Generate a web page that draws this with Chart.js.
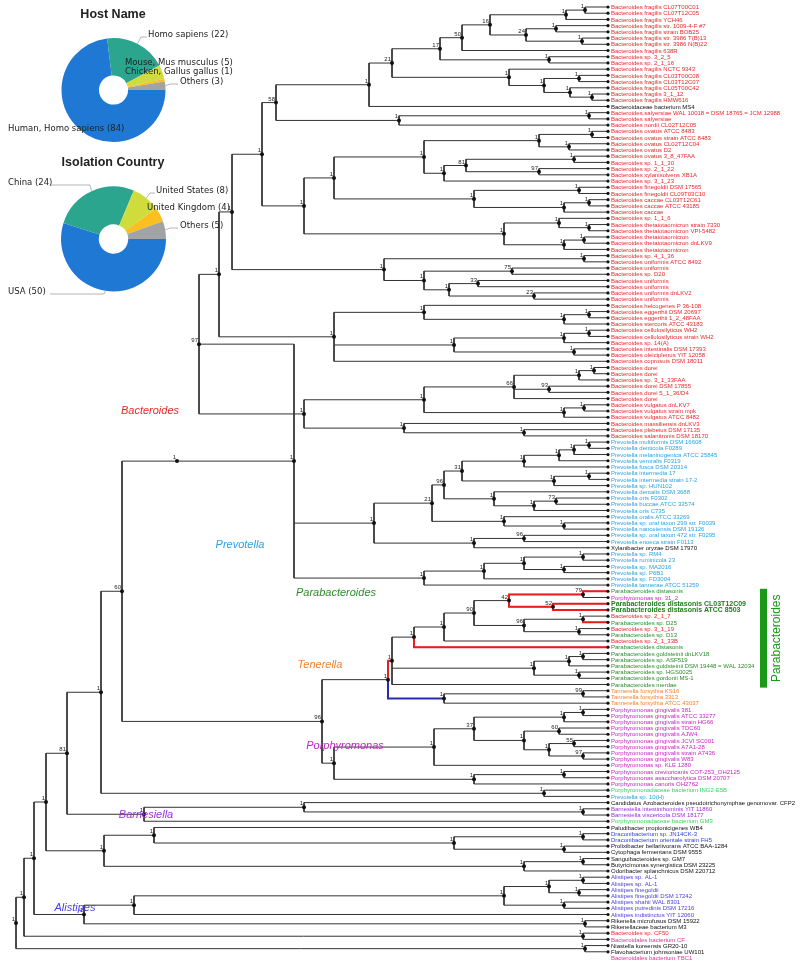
<!DOCTYPE html>
<html>
<head>
<meta charset="utf-8">
<script src="https://cdn.jsdelivr.net/npm/chart.js@4.4.1/dist/chart.umd.min.js"></script>
<style>
body { margin: 0; background: #fff; }
#wrap { position: relative; width: 800px; height: 963px; }
#tree { position: absolute; left: 0; top: 0; }
#host { position: absolute; left: 0; top: 0; }
#country { position: absolute; left: 0; top: 148px; }
</style>
</head>
<body>
<div id="wrap">
  <canvas id="tree" width="800" height="963"></canvas>
  <canvas id="host" width="240" height="150"></canvas>
  <canvas id="country" width="240" height="152"></canvas>
</div>
<script>
// ---- pie data ----
const hostLabels = ['Human, Homo sapiens', 'Homo sapiens', 'Mouse, Mus musculus', 'Chicken, Gallus gallus', 'Others'];
const hostCounts = [84, 22, 5, 1, 3];
const countryLabels = ['USA', 'China', 'United States', 'United Kingdom', 'Others'];
const countryCounts = [50, 24, 8, 4, 5];
const pieColors = ['#1f78d3', '#2ba58e', '#cfdc3c', '#fbbf1f', '#a3a3a3'];

// ---- tree leaves, top to bottom ----
const leafNames = [
  'Bacteroides fragilis CL07T00C01', 'Bacteroides fragilis CL07T12C05', 'Bacteroides fragilis YCH46',
  'Bacteroides fragilis str. 1009-4-F #7', 'Bacteroides fragilis strain BOB25', 'Bacteroides fragilis str. 3986 T(B)13',
  'Bacteroides fragilis str. 3986 N(B)22', 'Bacteroides fragilis 638R', 'Bacteroides sp. 3_2_5', 'Bacteroides sp. 2_1_16',
  'Bacteroides fragilis NCTC 9343', 'Bacteroides fragilis CL03T00C08', 'Bacteroides fragilis CL03T12C07',
  'Bacteroides fragilis CL05T00C42', 'Bacteroides fragilis 3_1_12', 'Bacteroides fragilis HMW616',
  'Bacteroidaceae bacterium MS4', 'Bacteroides salyersiae WAL 10018 = DSM 18765 = JCM 12988', 'Bacteroides salyersiae',
  'Bacteroides nordii CL02T12C05', 'Bacteroides ovatus ATCC 8483', 'Bacteroides ovatus strain ATCC 8483',
  'Bacteroides ovatus CL02T12C04', 'Bacteroides ovatus D2', 'Bacteroides ovatus 3_8_47FAA', 'Bacteroides sp. 1_1_30',
  'Bacteroides sp. 2_1_22', 'Bacteroides xylanisolvens XB1A', 'Bacteroides sp. 3_1_23', 'Bacteroides finegoldii DSM 17565',
  'Bacteroides finegoldii CL09T03C10', 'Bacteroides caccae CL03T12C61', 'Bacteroides caccae ATCC 43185', 'Bacteroides caccae',
  'Bacteroides sp. 1_1_6', 'Bacteroides thetaiotaomicron strain 7330', 'Bacteroides thetaiotaomicron VPI-5482',
  'Bacteroides thetaiotaomicron', 'Bacteroides thetaiotaomicron dnLKV9', 'Bacteroides thetaiotaomicron',
  'Bacteroides sp. 4_1_36', 'Bacteroides uniformis ATCC 8492', 'Bacteroides uniformis', 'Bacteroides sp. D20',
  'Bacteroides uniformis', 'Bacteroides uniformis', 'Bacteroides uniformis dnLKV2', 'Bacteroides uniformis',
  'Bacteroides helcogenes P 36-108', 'Bacteroides eggerthii DSM 20697', 'Bacteroides eggerthii 1_2_48FAA',
  'Bacteroides stercoris ATCC 43183', 'Bacteroides cellulosilyticus WH2', 'Bacteroides cellulosilyticus strain WH2',
  'Bacteroides sp. 14(A)', 'Bacteroides intestinalis DSM 17393', 'Bacteroides oleiciplenus YIT 12058',
  'Bacteroides coprosuis DSM 18011', 'Bacteroides dorei', 'Bacteroides dorei', 'Bacteroides sp. 3_1_33FAA',
  'Bacteroides dorei DSM 17855', 'Bacteroides dorei 5_1_36/D4', 'Bacteroides dorei', 'Bacteroides vulgatus dnLKV7',
  'Bacteroides vulgatus strain mpk', 'Bacteroides vulgatus ATCC 8482', 'Bacteroides massiliensis dnLKV3',
  'Bacteroides plebeius DSM 17135', 'Bacteroides salanitronis DSM 18170',
  'Prevotella multiformis DSM 16608', 'Prevotella denticola F0289', 'Prevotella melaninogenica ATCC 25845',
  'Prevotella veroralis F0319', 'Prevotella fusca DSM 20314', 'Prevotella intermedia 17', 'Prevotella intermedia strain 17-2',
  'Prevotella sp. HUN102', 'Prevotella dentalis DSM 3688', 'Prevotella oris F0302', 'Prevotella buccae ATCC 33574',
  'Prevotella oris C735', 'Prevotella oralis ATCC 33269', 'Prevotella sp. oral taxon 299 str. F0039',
  'Prevotella nanceiensis DSM 19126', 'Prevotella sp. oral taxon 472 str. F0295', 'Prevotella enoeca strain F0113',
  'Xylanibacter oryzae DSM 17970', 'Prevotella sp. RM4', 'Prevotella ruminicola 23', 'Prevotella sp. MA2016',
  'Prevotella sp. P6B1', 'Prevotella sp. FD3004', 'Prevotella tannerae ATCC 51259',
  'Parabacteroides distasonis', 'Porphyromonas sp. 31_2', 'Parabacteroides distasonis CL03T12C09',
  'Parabacteroides distasonis ATCC 8503', 'Bacteroides sp. 2_1_7', 'Parabacteroides sp. D25', 'Bacteroides sp. 3_1_19',
  'Parabacteroides sp. D13', 'Bacteroides sp. 2_1_33B', 'Parabacteroides distasonis', 'Parabacteroides goldsteinii dnLKV18',
  'Parabacteroides sp. ASF519', 'Parabacteroides goldsteinii DSM 19448 = WAL 12034', 'Parabacteroides sp. HGS0025',
  'Parabacteroides gordonii MS-1', 'Parabacteroides merdae',
  'Tannerella forsythia KS16', 'Tannerella forsythia 3313', 'Tannerella forsythia ATCC 43037',
  'Porphyromonas gingivalis 381', 'Porphyromonas gingivalis ATCC 33277', 'Porphyromonas gingivalis strain HG66',
  'Porphyromonas gingivalis TDC60', 'Porphyromonas gingivalis AJW4', 'Porphyromonas gingivalis JCVI SC001',
  'Porphyromonas gingivalis A7A1-28', 'Porphyromonas gingivalis strain A7436', 'Porphyromonas gingivalis W83',
  'Porphyromonas sp. KLE 1280', 'Porphyromonas crevioricanis COT-253_OH2125', 'Porphyromonas asaccharolytica DSM 20707',
  'Porphyromonas canoris OH2762', 'Porphyromonadaceae bacterium ING2-E5B', 'Prevotella sp. 10(H)',
  'Candidatus Azobacteroides pseudotrichonymphae genomovar. CFP2', 'Barnesiella intestinihominis YIT 11860',
  'Barnesiella viscericola DSM 18177', 'Porphyromonadaceae bacterium GM3', 'Paludibacter propionicigenes WB4',
  'Draconibacterium sp. JN14CK-3', 'Draconibacterium orientale strain FH5', 'Prolixibacter bellariivorans ATCC BAA-1284',
  'Cytophaga fermentans DSM 9555', 'Sanguibacteroides sp. GM7', 'Butyricimonas synergistica DSM 23225',
  'Odoribacter splanchnicus DSM 220712', 'Alistipes sp. AL-1', 'Alistipes sp. AL-1', 'Alistipes finegoldii',
  'Alistipes finegoldii DSM 17242', 'Alistipes shahii WAL 8301', 'Alistipes putredinis DSM 17216',
  'Alistipes indistinctus YIT 12060', 'Rikenella microfusus DSM 15922', 'Rikenellaceae bacterium M3',
  'Bacteroides sp. CF50', 'Bacteroidales bacterium CF', 'Niastella koreensis GR20-10',
  'Flavobacterium johnsoniae UW101', 'Bacteroidales bacterium TBC1'
];

// genus group of each leaf (same order)
const leafGroups = [].concat(
  Array(16).fill('bac'), ['none'], Array(53).fill('bac'),
  Array(17).fill('prev'), ['none'], Array(6).fill('prev'),
  ['para', 'porph', 'paraBold', 'paraBold', 'bac', 'para', 'bac', 'para', 'bac'], Array(7).fill('para'),
  Array(3).fill('tann'), Array(13).fill('porph'),
  ['pdae', 'prev', 'none', 'barn', 'barn', 'pdae', 'none', 'drac', 'drac'], Array(5).fill('none'),
  Array(7).fill('alis'), ['none', 'none', 'bac', 'bdal', 'none', 'none', 'bdal']
);

// tree: leaves are leaf numbers, "(...)support:depth" for inner nodes (depth from root, tips at 604)
const treeNewick = `
(
 (
  (
   (
    (
     (
      (
       (
        (
         (
          (
           (
            (
             (
              (
               ((((((1,2)1:581,3)1:562,((4,5)1:552,(6,7)1:578)24:522)16:486,8)50:458,(9,10)1:545)17:436,
                (11,((12,13)1:575,(14,(15,16)1:588)1:566)1:540)1:505)21:388,
               17)1:365,
              ((18,19)1:585,20)1:395)58:272,
             (
              ((((21,22)1:588,(23,24)1:565)1:535,(((25,26)1:570,(27,28)97:535)81:462,29)1:440)1:420,
               ((30,31)1:575,((32,33)1:585,34)1:560)1:470)1:330,
              ((35,(36,37)1:585)1:555,((38,39)1:580,40)1:560)1:500)1:300)1:258,
            ((41,42)1:580,((43,44)75:508,((45,46)33:474,(47,48)23:530)1:445)1:420)1:380)1:228,
           ((49,((50,51)1:585,52)1:560)1:420,(((53,54)1:585,55)1:560,(56,57)1:570)1:450,58)1:330)1:215,
          (((((59,60)1:590,61)1:575,(62,63)93:545,64)66:510,((65,66)1:580,67)1:560)1:420,
           (68,(69,70)1:520)1:400)1:300)97:195,
         (
          (((((((71,72)1:585,73)1:570,74)1:555,75)1:520,((76,77)1:585,78)1:550)31:458,
             (79,((80,81)73:552,82)1:530)1:490)96:440,
            (83,(84,85)1:560)1:500)21:428,
           ((86,87)96:520,88)1:470)1:370,
          ((((89,90)1:579,(91,92)1:560)1:520,93)1:480,94)1:420)1:290)1:173,
        (
         (
          ((((((95,96)79:579,(97,98)52:549)42:505,((99,100)1:579,(101,102)1:575)96:520)90:470,103)1:440,104)1:410,
           (((105,106)1:579,107)1:565,(108,109)1:575)1:530,110)1:388,
          ((111,112)99:579,113)1:440)1:384,
         (((((114,115)1:579,116)1:560,((117,118)60:555,((119,120)55:570,(121,122)97:579)1:545)1:520)37:470,123)1:430,
          ((124,125)1:560,126)1:470)1:330)96:318)60:118,
       (127,128)1:540)1:97,
      ((129,(130,131)1:579)1:300,132)1:140)81:63,
     ((133,((134,135)1:579,(136,137)1:560)1:450)1:150,((138,139)1:579,140)1:520)1:100)1:42,
    (((((141,142)1:579,(143,144)1:575)1:545,(145,146)1:560)1:500,147)1:130,(148,149)1:581)1:80)1:30,
   (150,151)1:579)1:20,
  (152,153)1:581)1:12,
 154)1:4
`;

// clade names drawn on the tree: anchor leaf position and depth
const cladeTags = [
  { name: 'Bacteroides', group: 'bac', leaf: 66.0, depth: 146 },
  { name: 'Prevotella', group: 'prev', leaf: 87.6, depth: 236 },
  { name: 'Parabacteroides', group: 'para', leaf: 95.3, depth: 332 },
  { name: 'Tenerella', group: 'tann', leaf: 106.9, depth: 316 },
  { name: 'Porphyromonas', group: 'porph', leaf: 119.9, depth: 341 },
  { name: 'Barnesiella', group: 'barn', leaf: 131.0, depth: 142 },
  { name: 'Alistipes', group: 'alis', leaf: 146.0, depth: 71 }
];

// branches drawn in colour, picked by the leaf span of the child they lead to
const highlightEdges = [
  { span: [95, 110], color: '#ec1c1c' },
  { span: [95, 96], color: '#ec1c1c' },
  { span: [95, 95], color: '#ec1c1c' },
  { span: [97, 98], color: '#ec1c1c' },
  { span: [97, 97], color: '#ec1c1c' },
  { span: [98, 98], color: '#ec1c1c' },
  { span: [100, 100], color: '#ec1c1c' },
  { span: [104, 104], color: '#ec1c1c' },
  { span: [111, 113], color: '#2a2ab0' }
];

const groupColors = {
  bac: '#e8292c', prev: '#2aa2e4', para: '#2c8c2c', paraBold: '#1f7d1f', porph: '#c724c7', tann: '#f2832f',
  pdae: '#39d35f', barn: '#9a30dc', drac: '#2f3fd8', alis: '#4a3ee0', bdal: '#e2339a', none: '#111'
};

const TIP = 604;
const N_LEAF = leafNames.length;

function parseTree(src) {
  const s = src.replace(/\s+/g, '');
  let i = 0;
  function node() {
    const n = { kids: [] };
    if (s[i] === '(') {
      i++;
      n.kids.push(node());
      while (s[i] === ',') { i++; n.kids.push(node()); }
      i++;
    }
    let lab = '';
    while (i < s.length && !',():'.includes(s[i])) lab += s[i++];
    if (s[i] === ':') {
      i++;
      let v = '';
      while (i < s.length && !',()'.includes(s[i])) v += s[i++];
      n.x = parseFloat(v);
    }
    if (n.kids.length) {
      n.support = lab;
    } else {
      n.leaf = parseInt(lab);
      n.x = TIP;
      n.y = n.leaf;
      n.lo = n.hi = n.leaf;
    }
    return n;
  }
  return node();
}

function placeNodes(n) {
  if (!n.kids.length) return;
  n.kids.forEach(placeNodes);
  n.y = (n.kids[0].y + n.kids[n.kids.length - 1].y) / 2;
  n.lo = Math.min(...n.kids.map(k => k.lo));
  n.hi = Math.max(...n.kids.map(k => k.hi));
}

const root = parseTree(treeNewick);
placeNodes(root);

const GAP = { x: NaN, y: NaN };
const branchPts = [];
const colorPts = {};
const nodePts = [];
const tipPts = [];
const supports = [];
(function walk(n) {
  if (!n.kids.length) { tipPts.push({ x: n.x, y: n.y }); return; }
  nodePts.push({ x: n.x, y: n.y });
  if (n.support) supports.push({ x: n.x, y: n.y, t: n.support });
  const first = n.kids[0], last = n.kids[n.kids.length - 1];
  branchPts.push({ x: n.x, y: first.y }, { x: n.x, y: last.y }, GAP);
  n.kids.forEach(k => {
    branchPts.push({ x: n.x, y: k.y }, { x: k.x, y: k.y }, GAP);
    const h = highlightEdges.find(e => e.span[0] === k.lo && e.span[1] === k.hi);
    if (h) {
      const pts = colorPts[h.color] || (colorPts[h.color] = []);
      pts.push({ x: n.x, y: n.y }, { x: n.x, y: k.y }, { x: k.x, y: k.y }, GAP);
    }
    walk(k);
  });
})(root);

const treeLabels = {
  id: 'treeLabels',
  afterDatasetsDraw(chart) {
    const { ctx, scales: { x, y } } = chart;
    ctx.save();
    ctx.textBaseline = 'middle';
    // leaf names
    leafNames.forEach((name, i) => {
      const g = leafGroups[i];
      ctx.fillStyle = groupColors[g];
      ctx.font = g === 'paraBold' ? 'bold 7px "Liberation Sans"' : '6px "Liberation Sans"';
      ctx.fillText(name, x.getPixelForValue(TIP) + 3, y.getPixelForValue(i + 1) + 0.5);
    });
    // support values
    ctx.fillStyle = '#222';
    ctx.font = '6px "Liberation Sans"';
    ctx.textAlign = 'right';
    ctx.textBaseline = 'alphabetic';
    supports.forEach(s => {
      ctx.fillText(s.t, x.getPixelForValue(s.x) - 1, y.getPixelForValue(s.y) - 2);
    });
    // clade names
    ctx.textAlign = 'center';
    ctx.textBaseline = 'middle';
    ctx.font = 'italic 11px "Liberation Sans"';
    cladeTags.forEach(c => {
      ctx.fillStyle = groupColors[c.group];
      ctx.fillText(c.name, x.getPixelForValue(c.depth), y.getPixelForValue(c.leaf));
    });
    // Parabacteroides bracket
    const top = y.getPixelForValue(94.6), bot = y.getPixelForValue(110.5);
    ctx.fillStyle = '#189a18';
    ctx.fillRect(760, top, 7, bot - top);
    ctx.save();
    ctx.translate(777, (top + bot) / 2);
    ctx.rotate(-Math.PI / 2);
    ctx.font = '12px "Liberation Sans"';
    ctx.fillText('Parabacteroides', 0, 0);
    ctx.restore();
    ctx.restore();
  }
};

// higher order is drawn first (underneath)
const treeSets = [
  { data: branchPts, order: 4, showLine: true, borderColor: '#333', borderWidth: 1, pointRadius: 0, spanGaps: false, clip: false }
];
Object.keys(colorPts).forEach(c => {
  treeSets.push({ data: colorPts[c], order: 3, showLine: true, borderColor: c, borderWidth: 2, pointRadius: 0, spanGaps: false, clip: false });
});
treeSets.push(
  { data: nodePts, order: 1, pointRadius: 2, pointBackgroundColor: '#111', pointBorderWidth: 0, clip: false },
  { data: tipPts, order: 0, pointRadius: 1.6, pointBackgroundColor: '#111', pointBorderWidth: 0, clip: false }
);

new Chart(document.getElementById('tree'), {
  type: 'scatter',
  data: { datasets: treeSets },
  options: {
    responsive: false,
    animation: false,
    layout: { padding: { left: 4, right: 192, top: 7, bottom: 5 } },
    scales: {
      x: { type: 'linear', min: 0, max: TIP, display: false },
      y: { type: 'linear', min: 1, max: N_LEAF, reverse: true, display: false }
    },
    plugins: { legend: { display: false }, tooltip: { enabled: false } }
  },
  plugins: [treeLabels]
});

// ---- pies ----
function pieLabelPlugin(title, spots) {
  return {
    id: 'pieLabels',
    afterDraw(chart) {
      const { ctx } = chart;
      const arcs = chart.getDatasetMeta(0).data;
      const labels = chart.data.labels;
      const vals = chart.data.datasets[0].data;
      ctx.save();
      ctx.fillStyle = '#222';
      ctx.font = 'bold 12.5px "Liberation Sans"';
      ctx.textAlign = 'center';
      ctx.textBaseline = 'middle';
      ctx.fillText(title, 113, 15);
      ctx.font = '8.5px "DejaVu Sans"';
      ctx.textAlign = 'left';
      arcs.forEach((a, i) => {
        const sp = spots[i];
        const mid = (a.startAngle + a.endAngle) / 2;
        const r = a.outerRadius;
        const ex = a.x + Math.cos(mid) * r, ey = a.y + Math.sin(mid) * r;
        if (sp.line) {
          ctx.strokeStyle = '#b5b5b5';
          ctx.lineWidth = 1;
          ctx.beginPath();
          ctx.moveTo(ex, ey);
          ctx.lineTo(sp.lx, sp.y + 2);
          ctx.lineTo(sp.lx2, sp.y + 2);
          ctx.stroke();
        }
        ctx.fillStyle = '#222';
        ctx.fillText(labels[i] + ' (' + vals[i] + ')', sp.x, sp.y);
      });
      ctx.restore();
    }
  };
}

const hostSpots = [
  { x: 8, y: 129, line: false },
  { x: 148, y: 35, line: true, lx: 141, lx2: 147 },
  { x: 125, y: 63, line: false },
  { x: 125, y: 72, line: false },
  { x: 180, y: 82, line: true, lx: 170, lx2: 178 }
];
const countrySpots = [
  { x: 8, y: 144, line: true, lx: 104, lx2: 50 },
  { x: 8, y: 35, line: true, lx: 90, lx2: 50 },
  { x: 156, y: 43, line: true, lx: 150, lx2: 155 },
  { x: 147, y: 60, line: false },
  { x: 180, y: 78, line: true, lx: 170, lx2: 178 }
];

function makePie(id, labels, counts, title, spots) {
  new Chart(document.getElementById(id), {
    type: 'doughnut',
    data: { labels: labels, datasets: [{ data: counts, backgroundColor: pieColors, borderWidth: 0 }] },
    options: {
      responsive: false,
      animation: false,
      rotation: 90,
      cutout: '28%',
      layout: { padding: { left: 61, right: 74, top: 38, bottom: 8 } },
      plugins: { legend: { display: false }, tooltip: { enabled: false } }
    },
    plugins: [pieLabelPlugin(title, spots)]
  });
}
makePie('host', hostLabels, hostCounts, 'Host Name', hostSpots);
makePie('country', countryLabels, countryCounts, 'Isolation Country', countrySpots);
</script>
</body>
</html>
